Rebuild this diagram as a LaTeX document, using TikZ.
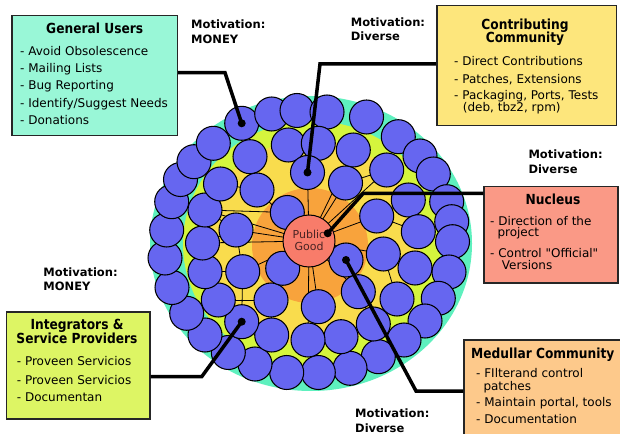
\documentclass[tikz,border=0pt]{standalone}
\usepackage{fontspec}
\setmainfont{DejaVu Sans}
\newfontfamily\titlefont{DejaVu Sans}[FakeStretch=0.88]
\newfontfamily\qfont{DejaVu Sans}[Ligatures=TeXOff]
\definecolor{caqua}{HTML}{5EF0BE}
\definecolor{cygreen}{HTML}{D5F53D}
\definecolor{cyellow}{HTML}{F9DC4D}
\definecolor{corange}{HTML}{F8A33C}
\definecolor{cpg}{HTML}{F87C6A}
\definecolor{cblue}{HTML}{6666F0}
\definecolor{cgu}{HTML}{99F7D7}
\definecolor{ccc}{HTML}{FDE67C}
\definecolor{cnu}{HTML}{FA9986}
\definecolor{cis}{HTML}{DDF564}
\definecolor{cmc}{HTML}{FDC98B}
\definecolor{cpgtext}{HTML}{4A2424}
\tikzset{
  blob/.style={draw=black, line width=1.05bp, fill=cblue},
  txt/.style={inner sep=0, anchor=base west, font=\fontsize{12bp}{14bp}\selectfont},
  ttl/.style={inner sep=0, anchor=base, font=\titlefont\bfseries\fontsize{13.9bp}{15bp}\selectfont},
  ttlw/.style={ttl, anchor=base west},
  mot/.style={inner sep=0, anchor=base west, font=\bfseries\fontsize{11.5bp}{13bp}\selectfont},
  boxs/.style={draw=black!85, line width=1.5bp, inner sep=0, anchor=north west},
  conn/.style={line width=3.5bp, black},
  dotc/.style={fill=black, circle, inner sep=0, minimum size=8bp},
  net/.style={line width=0.8bp, black},
  pgtxt/.style={inner sep=0, text=cpgtext, font=\fontsize{11bp}{12bp}\selectfont},
}
\begin{document}
\begin{tikzpicture}[x=1bp,y=-1bp]
\useasboundingbox (0,0) rectangle (620,434);
\fill[white] (0,0) rectangle (620,434);
% layered background
\fill[caqua] (311,243.5) ellipse[x radius=161, y radius=147.5];
\fill[cygreen] (312,244) ellipse[x radius=129, y radius=123];
\fill[cyellow] (311,243) ellipse[x radius=110, y radius=103];
\fill[corange] (310,245.5) ellipse[x radius=58, y radius=57.5];
% circle positions
\foreach \n/\x/\y in {
 o1/241.7/123.3, o2/271.7/114, o3/297/110.5, o4/327/112, o5/366.5/117,
 o6/398.3/136.7, o7/420/156, o8/433.3/174, o9/446.7/201.7, o10/451.7/221.7,
 o11/452.5/241.7, o12/449/272, o13/438.3/298.3, o14/425/321, o15/404/340,
 o16/378.3/356.7, o17/350/368.3, o18/318.3/372.5, o19/286.7/372.5, o20/255/364,
 o21/228.3/352.5, o22/205/335, o23/186.7/313.3, o24/172/287.5, o25/165/258,
 o26/166.7/230, o27/171.7/201.7, o28/180.5/179.5, o29/194/161.7, o30/213.3/143.3,
 m1/250/156.7, m2/288.3/145, m3/318.3/143.3, m4/353.3/150, m5/386.7/170,
 m6/408.3/200, m7/418.3/231.7, m8/415/268, m9/397/299, m10/373.3/324,
 m11/341/336.7, m12/308/340, m13/271.7/335, m14/241.7/321.7, m15/218.3/300,
 m16/205/271.7, m17/202.5/243, m18/205/210, m19/220.5/184, m20/257/190,
 m21/307.5/172.5, m22/345.5/183, m23/376.7/216, m24/383.3/254, m25/358.3/291.7,
 m26/318.3/306.7, m27/271/300, m28/242.7/271.7, m29/236/230, m30/287.3/212.5,
 m31/282.7/268.3, m32/346/260, pg/309/241}
 \coordinate (\n) at (\x,\y);
% thin network lines
\foreach \a/\b in {pg/m30, pg/m29, pg/m17, pg/m18, pg/m20, pg/m21, pg/m22, pg/m5,
  pg/m23, pg/m24, pg/m25, pg/m26, pg/m27, pg/m28, pg/m31, pg/m32, pg/m12, pg/m4,
  m18/m30, m17/m29, m16/m28, m28/m29, m15/m27, m14/m28, m27/m13, m26/m12,
  m25/m10, m24/m9, m24/m8, m23/m6, m23/m7, m22/m5, m20/m1, m19/m20, m21/m3, m29/m18}
 \draw[net] (\a) -- (\b);
% blue circles
\foreach \n in {o1,o2,o3,o4,o5,o6,o7,o8,o9,o10,o11,o12,o13,o14,o15,o16,o17,o18,o19,o20,
  o21,o22,o23,o24,o25,o26,o27,o28,o29,o30,
  m1,m2,m3,m4,m5,m6,m7,m8,m9,m10,m11,m12,m13,m14,m15,m16,m17,m18,m19,m20,
  m21,m22,m23,m24,m25,m26,m27,m28,m29,m30,m31,m32}
 \draw[blob] (\n) circle[radius=17];
% public good
\node[circle, draw=black, line width=1bp, fill=cpg, minimum size=52bp, inner sep=0] (pgc) at (pg) {};
\node[pgtxt] (pub) at (309,234.5) {Public};
\node[pgtxt] (good) at (309,246.5) {Good};
% boxes
\node[boxs, fill=cgu, minimum width=165.7bp, minimum height=120bp] (gubox) at (11,15) {};
\node[boxs, fill=ccc, minimum width=179.7bp, minimum height=120bp] (ccbox) at (436,5) {};
\node[boxs, fill=cnu, minimum width=133.7bp, minimum height=96.6bp] (nubox) at (483.3,185.7) {};
\node[boxs, fill=cis, minimum width=143.3bp, minimum height=107.3bp] (isbox) at (5.7,311) {};
\node[boxs, fill=cmc, minimum width=170bp, minimum height=110bp] (mcbox) at (463.3,339.3) {};
% connectors
\coordinate (gub) at (225,72.7);
\coordinate (ccb) at (320,64);
\coordinate (nub) at (363.3,193.3);
\coordinate (nud) at (327.7,233.3);
\coordinate (isb) at (201.7,376.7);
\coordinate (mcb) at (416,391);
\draw[conn] (gubox.east |- gub) -- (gub) -- (o1);
\draw[conn] (ccbox.west |- ccb) -- (ccb) -- (m21);
\draw[conn] (nubox.west |- nub) -- (nub) -- (nud);
\draw[conn] (isbox.east |- isb) -- (isb) -- (m14);
\draw[conn] (mcbox.west |- mcb) -- (mcb) -- (m32);
\node[dotc] (d1) at (o1) {};
\node[dotc] (d2) at (m21) {};
\node[dotc] (d3) at (nud) {};
\node[dotc] (d4) at (m14) {};
\node[dotc] (d5) at (m32) {};
% General Users
\node[ttl] (gut) at (94.7,34) {General Users};
\node[txt] (gu1) at (20,56) {- Avoid Obsolescence};
\node[txt] (gu2) at (20,72.7) {- Mailing Lists};
\node[txt] (gu3) at (20,90) {- Bug Reporting};
\node[txt] (gu4) at (20,107.3) {- Identify/Suggest Needs};
\node[txt] (gu5) at (20,124.3) {- Donations};
% Contributing Community
\node[ttl] (cct1) at (525,29.3) {Contributing};
\node[ttl] (cct2) at (525,42.7) {Community};
\node[txt] (cc1) at (454,65.7) {- Direct Contributions};
\node[txt] (cc2) at (454,83.3) {- Patches, Extensions};
\node[txt] (cc3) at (454,100) {- Packaging, Ports, Tests};
\node[txt] (cc4) at (462.7,112) {(deb, tbz2, rpm)};
% Nucleus
\node[ttl] (nut) at (553,205) {Nucleus};
\node[txt] (nu1) at (490,226) {- Direction of the};
\node[txt] (nu2) at (497.3,237) {project};
\node[txt] (nu3) at (490,257.3) {\qfont - Control "Official"};
\node[txt] (nu4) at (501.7,270) {Versions};
% Integrators
\node[ttl] (ist1) at (77,329) {Integrators \&};
\node[ttl] (ist2) at (77,343.3) {Service Providers};
\node[txt] (is1) at (16.7,365) {- Proveen Servicios};
\node[txt] (is2) at (16.7,384.3) {- Proveen Servicios};
\node[txt] (is3) at (16.7,401.7) {- Documentan};
% Medullar
\node[ttlw] (mct) at (471,358.3) {Medullar Community};
\node[txt] (mc1) at (476,377.3) {- FIlterand control};
\node[txt] (mc2) at (483.3,390) {patches};
\node[txt] (mc3) at (476,406) {- Maintain portal, tools};
\node[txt] (mc4) at (476,423.3) {- Documentation};
% Motivations
\node[mot] (mo1a) at (191,28.3) {Motivation:};
\node[mot] (mo1b) at (191,43.3) {MONEY};
\node[mot] (mo2a) at (350.7,26.7) {Motivation:};
\node[mot] (mo2b) at (350.7,41) {Diverse};
\node[mot] (mo3a) at (528.3,158.3) {Motivation:};
\node[mot] (mo3b) at (528.3,173.3) {Diverse};
\node[mot] (mo4a) at (43.3,276.7) {Motivation:};
\node[mot] (mo4b) at (43.3,291) {MONEY};
\node[mot] (mo5a) at (355,417.5) {Motivation:};
\node[mot] (mo5b) at (355,432.5) {Diverse};
\end{tikzpicture}
\end{document}
